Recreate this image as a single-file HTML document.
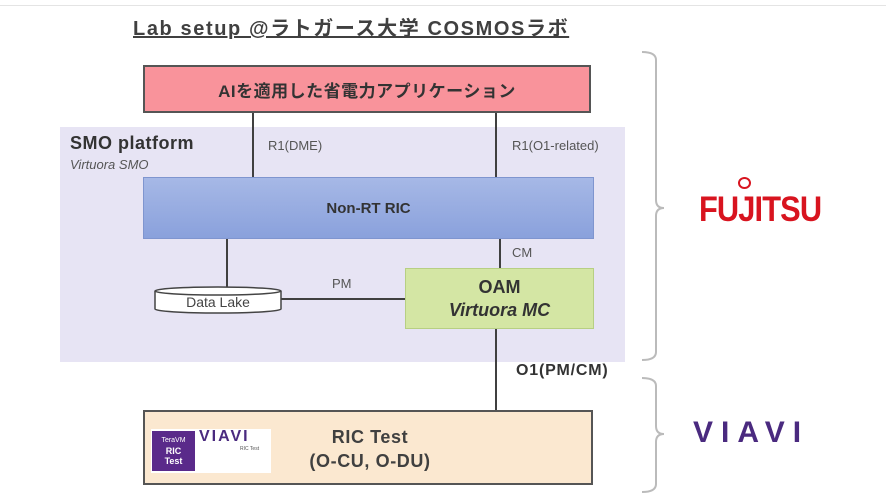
<!DOCTYPE html>
<html><head><meta charset="utf-8"><style>
body{margin:0;width:886px;height:501px;background:#fff;position:relative;overflow:hidden;font-family:"Liberation Sans","Noto Sans CJK JP",sans-serif;color:#404040}
.a{position:absolute}
.c{display:flex;align-items:center;justify-content:center;text-align:center;box-sizing:border-box}
.l{position:absolute;background:#404040}
</style></head><body>
<div class="a" style="left:0;top:5px;width:886px;height:1px;background:#e4e4e4"></div>
<div class="a" style="left:133px;top:12px;font-size:20px;letter-spacing:1.6px;font-weight:bold;text-decoration:underline;color:#404040">Lab setup @ラトガース大学 COSMOSラボ</div>

<div class="a c" style="left:143px;top:65px;width:448px;height:48px;background:#f9939b;border:2px solid #555;font-size:17px;letter-spacing:0.5px;font-weight:bold;color:#333">AIを適用した省電力アプリケーション</div>

<div class="a" style="left:60px;top:127px;width:565px;height:235px;background:#e7e4f4"></div>
<div class="a" style="left:70px;top:133px;font-size:18px;letter-spacing:0.5px;font-weight:bold;color:#333">SMO platform</div>
<div class="a" style="left:70px;top:157px;font-size:13px;font-style:italic;color:#555">Virtuora SMO</div>

<div class="l" style="left:252px;top:113px;width:2px;height:65px"></div>
<div class="l" style="left:495px;top:113px;width:2px;height:65px"></div>
<div class="a" style="left:268px;top:138px;font-size:13px;color:#555">R1(DME)</div>
<div class="a" style="left:512px;top:138px;font-size:13px;color:#555">R1(O1-related)</div>

<div class="a c" style="left:143px;top:177px;width:451px;height:62px;background:linear-gradient(#a6b8e6,#8aa1dc);border:1px solid #7f95cf;font-size:15px;font-weight:bold;color:#333">Non-RT RIC</div>

<div class="l" style="left:226px;top:239px;width:2px;height:49px"></div>
<div class="l" style="left:499px;top:239px;width:2px;height:29px"></div>
<div class="a" style="left:512px;top:245px;font-size:13px;color:#555">CM</div>
<div class="l" style="left:281px;top:298px;width:124px;height:2px"></div>
<div class="a" style="left:332px;top:276px;font-size:13px;color:#555">PM</div>

<svg class="a" style="left:154px;top:285px" width="130" height="30"><path d="M1,6 L1,24 A63,4 0 0 0 127,24 L127,6" fill="#fff" stroke="#444" stroke-width="1.5"/><ellipse cx="64" cy="6" rx="63" ry="4" fill="#fff" stroke="#444" stroke-width="1.5"/><text x="64" y="22" text-anchor="middle" font-family="Liberation Sans" font-size="14" fill="#444">Data Lake</text></svg>

<div class="a c" style="left:405px;top:268px;width:189px;height:61px;background:#d4e6a4;border:1px solid #b7cf83;flex-direction:column;font-size:18px;font-weight:bold;color:#333;line-height:23px"><div>OAM</div><div style="font-style:italic">Virtuora MC</div></div>

<div class="l" style="left:495px;top:329px;width:2px;height:82px"></div>
<div class="a" style="left:516px;top:362px;font-size:16px;letter-spacing:0.8px;font-weight:bold;color:#333">O1(PM/CM)</div>

<div class="a c" style="left:143px;top:410px;width:450px;height:75px;background:#fbe8d0;border:2px solid #555;"></div>
<div class="a" style="left:151px;top:429px;width:120px;height:44px;background:#fff"></div>
<div class="a c" style="left:152px;top:431px;width:43px;height:40px;background:#5a2a8a;color:#fff;font-size:9px;font-weight:bold;flex-direction:column;line-height:10px"><div style="font-size:7px;font-weight:normal">TeraVM</div><div>RIC</div><div>Test</div></div>
<div class="a" style="left:199px;top:428px;font-size:16px;font-weight:bold;color:#4a2a7f;letter-spacing:2px">VIAVI</div>
<div class="a" style="left:240px;top:446px;font-size:5px;color:#555">RIC Test</div>
<div class="a c" style="left:280px;top:425px;width:180px;flex-direction:column;font-size:18px;letter-spacing:0.6px;font-weight:bold;color:#404040;line-height:24px"><div>RIC Test</div><div>(O-CU, O-DU)</div></div>

<svg class="a" style="left:638px;top:48px" width="30" height="450"><path d="M4,4 Q18,4 18,12 L18,152 Q18,160 26,160 Q18,160 18,168 L18,304 Q18,312 4,312" fill="none" stroke="#bbb" stroke-width="2"/><path d="M4,330 Q18,330 18,338 L18,378 Q18,386 26,386 Q18,386 18,394 L18,436 Q18,444 4,444" fill="none" stroke="#bbb" stroke-width="2"/></svg>

<div class="a" style="left:699px;top:190px;font-size:35px;font-weight:bold;color:#d8141f;letter-spacing:-1px;transform:scaleX(0.88);transform-origin:left">FUJITSU</div>
<div class="a" style="left:738px;top:177px;width:9px;height:8px;border:2px solid #d8141f;border-radius:50%"></div>
<div class="a" style="left:693px;top:416px;font-size:30px;font-weight:bold;color:#4a2a7f;letter-spacing:8px">VIAVI</div>
</body></html>
